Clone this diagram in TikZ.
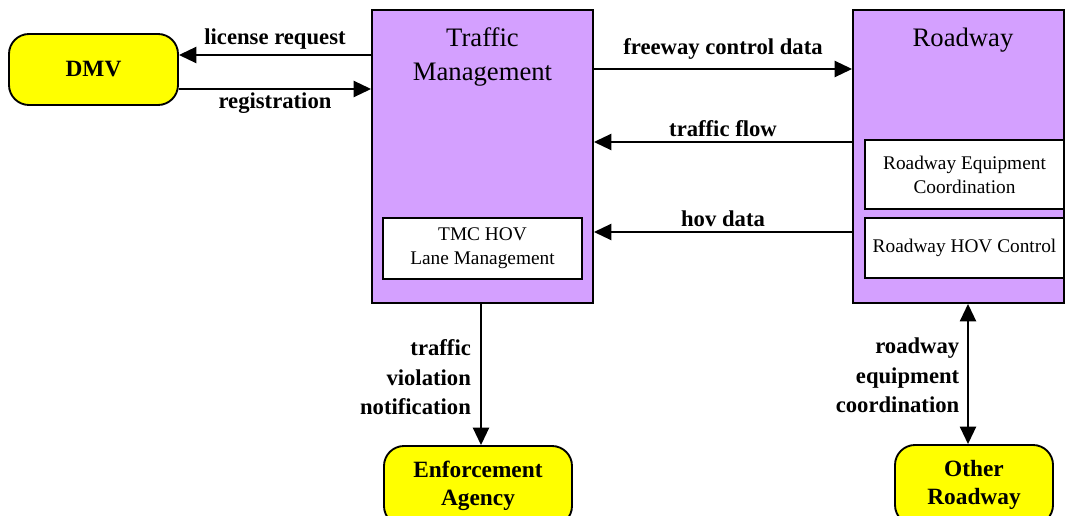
\documentclass[tikz,border=0pt]{standalone}
\usepackage{fontspec}
\setmainfont{Liberation Serif}
\usetikzlibrary{arrows.meta}
\definecolor{lilac}{RGB}{212,160,255}
\definecolor{termyellow}{RGB}{255,255,0}
\tikzset{
  system/.style={draw,line width=1.4pt,fill=lilac,inner sep=0pt},
  term/.style={draw,line width=1.4pt,fill=termyellow,rounded corners=15pt,align=center,
    font=\fontsize{17.5}{21}\selectfont\bfseries},
  sub/.style={draw,line width=1.1pt,fill=white,align=center,
    font=\fontsize{14.5}{18}\selectfont},
  title/.style={align=center,font=\fontsize{20}{26}\selectfont},
  flow/.style={line width=1.5pt,-{Triangle[length=13pt,width=12pt]}},
  lbl/.style={font=\fontsize{17}{22}\selectfont\bfseries}
}

\begin{document}
\begin{tikzpicture}[x=0.75pt,y=-0.75pt]
  \clip (0,0) rectangle (1066,516);

  % main systems
  \node[system,minimum width=165.75pt,minimum height=219.75pt] (tm) at (482.5,156.5) {};
  \node[system,minimum width=158.25pt,minimum height=219.75pt] (rw) at (958.5,156.5) {};
  \node[title] (tmtitle) at (482.5,57) {Traffic\\Management};
  \node[title] (rwtitle) at (963,40) {Roadway};

  % subsystems
  \node[sub,minimum width=149.25pt,minimum height=45.75pt] (tmc) at (482.5,248.5) {TMC HOV\\Lane Management};
  \node[sub,minimum width=149.25pt,minimum height=51.75pt] (rec) at (964.5,174.5) {Roadway Equipment\\Coordination};
  \node[sub,minimum width=149.25pt,minimum height=45pt] (rhc) at (964.5,248) {Roadway HOV Control};

  % terminators
  \node[term,minimum width=126.75pt,minimum height=53.25pt] (dmv) at (93.5,69.5) {DMV};
  \node[term,minimum width=141pt,minimum height=60pt] (ea) at (478,486) {Enforcement\\Agency};
  \node[term,minimum width=118.5pt,minimum height=60pt] (orw) at (974,485) {Other\\Roadway};

  % flows
  \draw[flow] (tm.west |- 0,55) -- node[lbl,above] {license request} (dmv.east |- 0,55);
  \draw[flow] (dmv.east |- 0,89) -- node[lbl,below,yshift=1.5pt] {registration} (tm.west |- 0,89);
  \draw[flow] (tm.east |- 0,69) -- node[lbl,above,yshift=3pt] {freeway control data} (rw.west |- 0,69);
  \foreach \y/\txt in {142/traffic flow, 232/hov data}
    \draw[flow] (rw.west |- 0,\y) -- node[lbl,above] {\txt} (tm.east |- 0,\y);
  \draw[flow] (481,0 |- tm.south) -- node[lbl,left,align=right,xshift=-3.5pt,yshift=-2pt] {traffic\\violation\\notification} (481,0 |- ea.north);
  \draw[flow,{Triangle[length=13pt,width=12pt]}-{Triangle[length=13pt,width=12pt]}]
    (968,0 |- rw.south) -- node[lbl,left,align=right,xshift=-2.5pt,yshift=-1pt] {roadway\\equipment\\coordination} (968,0 |- orw.north);
\end{tikzpicture}
\end{document}
